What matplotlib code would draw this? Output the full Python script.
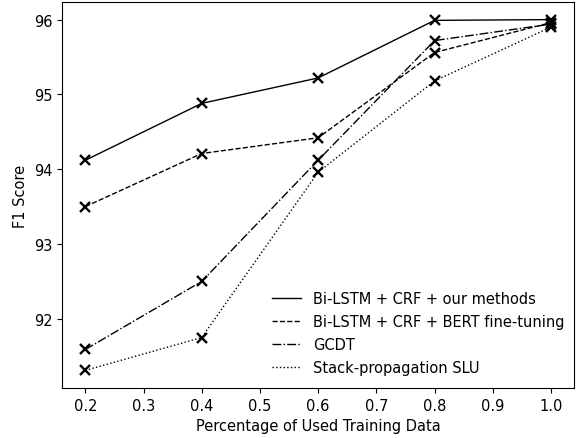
import matplotlib
matplotlib.use("Agg")
import matplotlib.pyplot as plt
from matplotlib.lines import Line2D

x = [0.2, 0.4, 0.6, 0.8, 1.0]
ours = [94.12, 94.88, 95.22, 95.99, 96.0]
bert = [93.5, 94.21, 94.42, 95.56, 95.96]
gcdt = [91.59, 92.5, 94.12, 95.72, 95.94]
stack = [91.31, 91.75, 93.96, 95.18, 95.9]
labels = ["Bi-LSTM + CRF + our methods", "Bi-LSTM + CRF + BERT fine-tuning",
          "GCDT", "Stack-propagation SLU"]
styles = ["-", "--", "-.", ":"]

fig = plt.figure(figsize=(5.8, 4.39), dpi=100)
ax = fig.add_axes([0.107, 0.114, 0.883, 0.879])
handles = []
for ys, lab, ls in zip([ours, bert, gcdt, stack], labels, styles):
    ax.plot(x, ys, color="black", linestyle=ls, linewidth=1.0, marker="x",
            markersize=7.5, markeredgewidth=1.7)
    handles.append(Line2D([], [], color="black", linestyle=ls, linewidth=1.0, label=lab))

ax.set_xticks([0.2, 0.3, 0.4, 0.5, 0.6, 0.7, 0.8, 0.9, 1.0])
ax.set_yticks([92, 93, 94, 95, 96])
ax.tick_params(labelsize=10.5)
ax.set_xlabel("Percentage of Used Training Data", fontsize=10.5)
ax.set_ylabel("F1 Score", fontsize=10.5)
ax.legend(handles=handles, loc="lower right", bbox_to_anchor=(1.006, 0.0),
          frameon=False, fontsize=10.5, labelspacing=0.55)
fig.savefig("out.png", dpi=100)
